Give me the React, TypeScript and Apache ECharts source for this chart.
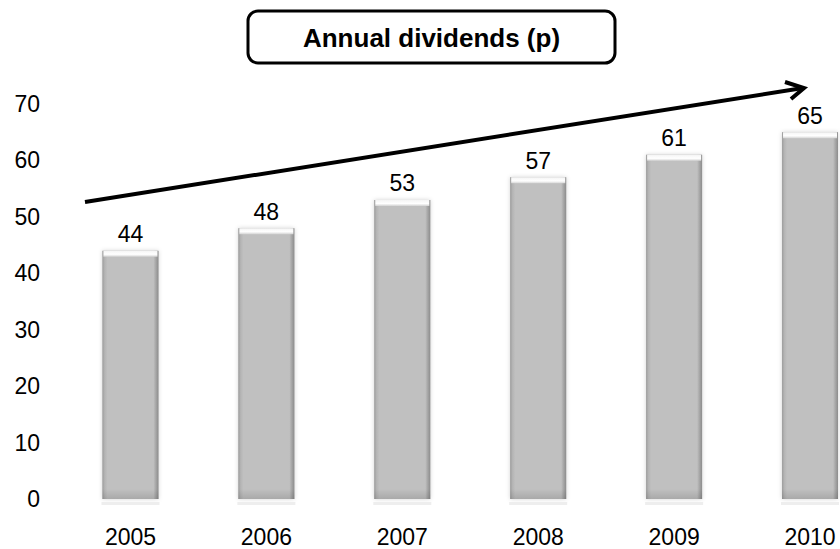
import React, { useEffect, useRef } from "react";
import * as echarts from "echarts";

// Annual dividend per share, pence
const years = ["2005", "2006", "2007", "2008", "2009", "2010"];
const dividends = [44, 48, 53, 57, 61, 65];
const yMin = 0;
const yMax = 70;
const yStep = 10;

const FONT = "'Liberation Sans', Arial, Helvetica, sans-serif";

// Bevelled grey column with a light top cap and a faint floor reflection
function renderBar(params: any, api: any) {
  const idx = api.value(0);
  const val = api.value(1);
  const top = api.coord([idx, val]);
  const base = api.coord([idx, 0]);
  const bw = api.size([1, 0])[0] * 0.412;
  const left = top[0] - bw / 2;
  const h = base[1] - top[1];
  return {
    type: "group",
    children: [
      {
        type: "rect",
        shape: { x: left, y: top[1], width: bw, height: h },
        style: {
          fill: "#c0c0c0",
          shadowBlur: 4,
          shadowColor: "rgba(0,0,0,0.18)",
        },
      },
      {
        type: "rect",
        shape: { x: left, y: top[1], width: bw, height: h },
        style: {
          fill: new echarts.graphic.LinearGradient(0, 0, 1, 0, [
            { offset: 0, color: "#9c9c9c" },
            { offset: 0.04, color: "#b4b4b4" },
            { offset: 0.09, color: "#c0c0c0" },
            { offset: 0.91, color: "#c0c0c0" },
            { offset: 0.95, color: "#a8a8a8" },
            { offset: 1, color: "#8c8c8c" },
          ]),
        },
      },
      {
        type: "rect",
        shape: { x: left, y: base[1] - 10, width: bw, height: 10 },
        style: {
          fill: new echarts.graphic.LinearGradient(0, 0, 0, 1, [
            { offset: 0, color: "rgba(0,0,0,0)" },
            { offset: 1, color: "rgba(0,0,0,0.12)" },
          ]),
        },
      },
      {
        type: "rect",
        shape: { x: left + 1, y: top[1], width: bw - 2, height: 6 },
        style: {
          fill: new echarts.graphic.LinearGradient(0, 0, 0, 1, [
            { offset: 0, color: "#f4f4f4" },
            { offset: 0.6, color: "#ffffff" },
            { offset: 1, color: "#d4d4d4" },
          ]),
        },
      },
      {
        type: "rect",
        shape: { x: left - 1, y: base[1] + 3, width: bw + 2, height: 3 },
        style: { fill: "#eeeeee" },
      },
      {
        type: "text",
        x: top[0],
        y: top[1] - 5,
        style: {
          text: String(val),
          fontSize: 23,
          fontFamily: FONT,
          fill: "#000",
          align: "center",
          verticalAlign: "bottom",
        },
      },
    ],
  };
}

export default function App() {
  const ref = useRef<HTMLDivElement>(null);

  useEffect(() => {
    if (!ref.current) return;
    const chart = echarts.init(ref.current, null, { renderer: "svg" });
    chart.setOption({
      animation: false,
      backgroundColor: "#ffffff",
      grid: {
        left: 62.5,
        top: 104,
        bottom: 50,
        width: 815.5,
        containLabel: false,
        outerBoundsMode: "none",
      },
      xAxis: {
        type: "category",
        data: years,
        axisLine: { show: false },
        axisTick: { show: false },
        axisLabel: {
          margin: 26,
          fontSize: 23,
          fontFamily: FONT,
          color: "#000",
        },
      },
      yAxis: {
        type: "value",
        min: yMin,
        max: yMax,
        interval: yStep,
        axisLine: { show: false },
        axisTick: { show: false },
        splitLine: { show: false },
        axisLabel: {
          margin: 22.5,
          fontSize: 23,
          fontFamily: FONT,
          color: "#000",
        },
      },
      series: [
        {
          type: "custom",
          data: dividends.map((v, i) => [i, v]),
          encode: { x: 0, y: 1 },
          renderItem: renderBar,
          clip: false,
        },
      ],
      graphic: [
        {
          type: "rect",
          shape: { x: 248, y: 11, width: 367, height: 52, r: 10 },
          style: { fill: "#ffffff", stroke: "#000", lineWidth: 3 },
        },
        {
          type: "text",
          x: 431.5,
          y: 38,
          style: {
            text: "Annual dividends (p)",
            fontSize: 26,
            fontWeight: "bold",
            fontFamily: FONT,
            fill: "#000",
            align: "center",
            verticalAlign: "middle",
          },
        },
        {
          type: "polyline",
          shape: { points: [[85, 202], [803, 88]] },
          style: { stroke: "#000", lineWidth: 4, fill: null },
        },
        {
          type: "polyline",
          shape: { points: [[785, 82], [804, 88], [791, 99]] },
          style: { stroke: "#000", lineWidth: 4, fill: null, lineJoin: "miter" },
        },
      ],
    });
    return () => chart.dispose();
  }, []);

  return (
    <div
      ref={ref}
      style={{ position: "fixed", left: 0, top: 0, width: 840, height: 549 }}
    />
  );
}
